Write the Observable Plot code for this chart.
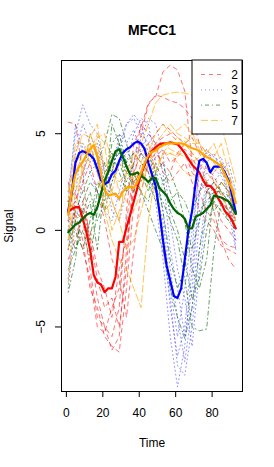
<!DOCTYPE html>
<html><head><meta charset="utf-8">
<script src="https://cdn.jsdelivr.net/npm/d3@7"></script>
<script src="https://cdn.jsdelivr.net/npm/@observablehq/plot@0.6"></script>
<style>body{margin:0;background:#fff}</style>
</head><body><div id="chart"></div>
<script>
// ---- data ----
const classes = ["2", "3", "5", "7"];
const xTicks = [0, 20, 40, 60, 80];
const yTicks = [-5, 0, 5];
const thinTime = [1,5,9,13,17,21,25,29,33,37,41,45,49,53,57,61,65,69,73,77,81,85,89,93];
const meanTime = [1,3,5,7,9,11,13,15,17,19,21,23,25,27,29,31,33,35,37,39,41,43,45,47,49,51,53,55,57,59,61,63,65,67,69,71,73,75,77,79,81,83,85,87,89,91,93];

// class 2 (individual recordings)
const c2_a = [5.6,5.5,3.0,-1.0,-3.5,-5.0,-5.5,-4.0,1.0,4.5,5.3,6.6,6.9,8.2,8.55,8.3,7.2,3.5,2.0,1.0,0.5,-0.5,-1.5,-2.0];
const c2_b = [1.5,2.0,0.5,-2.0,-4.5,-5.0,-6.2,-5.5,-1.0,2.5,5.0,6.5,7.0,6.9,6.7,6.6,6.3,5.8,4.5,3.5,2.5,1.8,1.0,0.2];
const c2_c = [0.5,0.8,-0.5,-3.0,-4.0,-5.5,-6.0,-6.3,-3.0,1.5,3.0,4.0,4.5,4.8,5.0,4.6,4.0,3.0,2.5,2.0,1.5,0.5,0.0,-0.5];
const c2_d = [-1.5,-0.5,1.0,0.0,-2.0,-3.0,-4.5,-2.0,-0.5,2.0,3.5,3.0,3.8,4.2,3.5,3.8,4.2,3.8,3.0,2.2,1.0,-0.5,-0.8,-0.9];
const c2_e = [1.0,1.5,2.5,3.5,2.0,0.5,-1.5,-2.5,-4.5,-1.0,2.0,3.5,4.0,3.5,3.0,4.0,4.5,4.0,3.5,2.5,2.0,1.5,1.0,0.8];
const c2_f = [0.0,1.0,1.5,-0.5,-2.5,-4.0,-3.5,-5.0,-2.0,3.5,5.5,5.0,4.5,3.0,2.5,3.0,3.5,2.5,1.0,0.5,0.0,-0.8,-1.0,-1.2];
const c2_g = [2.5,0.5,-1.0,-2.5,-5.0,-5.3,-4.0,-3.0,0.5,3.0,4.0,4.5,5.0,5.5,5.2,4.8,4.5,4.8,4.0,3.2,2.8,2.0,1.5,0.5];
// class 3
const c3_a = [2.0,5.0,6.5,5.5,5.0,3.0,3.5,4.0,5.5,6.0,5.5,4.0,2.5,0.0,-4.0,-6.5,-5.0,-1.0,3.5,4.0,3.8,3.5,3.0,1.5];
const c3_b = [0.5,3.0,3.5,3.0,2.0,1.5,2.5,3.5,4.0,4.5,4.0,3.0,1.5,-1.5,-5.5,-8.1,-6.0,-2.0,2.0,3.0,3.2,2.8,2.0,0.5];
const c3_c = [-1.0,1.5,3.0,4.0,3.5,1.0,0.5,2.0,3.5,5.0,5.8,5.5,3.5,1.0,-2.0,-4.5,-6.8,-4.0,0.5,2.5,3.0,3.5,1.5,-0.5];
const c3_d = [-2.5,2.0,4.5,4.0,3.0,3.5,2.0,1.5,3.0,4.0,4.2,5.0,4.5,3.0,-1.0,-3.0,-5.5,-3.0,2.0,3.5,4.0,3.0,2.5,-1.0];
const c3_e = [1.5,5.5,4.0,3.5,4.5,3.0,1.0,0.5,2.0,3.5,4.8,5.8,5.5,4.0,0.5,-2.0,-3.5,-6.0,-2.0,1.0,2.5,3.0,3.5,2.0];
const c3_f = [-3.0,0.5,2.5,5.0,4.0,2.5,3.0,4.5,5.5,5.8,5.0,4.5,3.0,-1.0,-3.5,-7.0,-7.5,-5.0,-1.0,2.0,2.5,2.0,1.0,-1.0];
const c3_g = [0.0,4.0,5.5,4.5,3.0,2.0,3.0,5.0,4.5,5.2,4.0,3.5,2.0,0.5,-3.0,-5.5,-3.0,0.0,3.0,4.2,3.5,3.8,2.5,1.0];
// class 5
const c5_a = [-0.5,1.0,2.0,3.0,3.5,4.5,6.0,5.8,4.5,3.0,2.0,1.5,3.0,3.5,2.0,1.0,0.5,-1.0,0.5,2.0,2.5,2.0,1.5,1.2];
const c5_b = [-2.0,-1.0,0.0,-1.5,1.0,3.0,3.5,4.0,3.0,2.5,2.0,1.0,0.0,-1.0,-3.0,-4.5,-5.6,-4.0,-1.0,1.0,1.5,1.0,0.5,0.0];
const c5_c = [0.5,0.0,-1.0,0.5,2.5,2.0,4.5,5.0,3.5,4.0,3.5,3.0,2.0,1.5,0.5,-0.5,-2.5,-5.0,-5.2,-5.1,-1.0,1.5,1.0,0.5];
const c5_d = [-3.2,-1.5,1.5,2.5,2.0,1.0,2.5,3.5,2.5,3.5,4.0,3.5,2.5,2.0,1.5,2.0,1.5,0.5,1.0,1.5,2.0,2.5,2.0,1.5];
const c5_e = [1.5,1.0,0.5,1.5,-1.0,2.5,4.0,3.0,2.0,2.5,3.0,2.5,1.5,2.5,3.0,2.0,0.5,-2.0,-3.0,-1.5,2.0,2.0,1.8,1.0];
const c5_f = [0.0,-1.0,1.0,2.0,0.5,1.5,5.5,4.5,3.5,2.0,3.0,2.0,3.5,2.5,1.0,0.0,-1.5,-3.5,-2.5,0.0,1.5,2.5,2.0,1.0];
const c5_g = [-1.0,0.5,1.0,-0.5,2.0,3.5,3.0,4.5,2.0,3.0,2.5,4.0,3.0,1.0,-1.5,-3.0,-2.0,1.0,2.0,2.5,1.0,1.5,0.5,0.5];
// class 7
const c7_a = [2.0,3.5,4.0,4.5,4.0,3.5,3.0,2.5,3.0,3.5,4.5,5.5,6.6,7.0,7.1,7.15,7.1,7.0,6.9,6.7,6.5,5.5,4.0,2.5];
const c7_b = [-2.7,1.0,3.5,4.5,3.0,1.0,-0.5,-1.5,-2.0,-3.0,-4.0,0.5,3.0,4.0,4.5,4.8,4.6,4.0,3.5,3.0,2.5,2.0,1.0,0.5];
const c7_c = [0.5,4.0,5.0,4.8,5.5,3.0,2.0,3.5,3.0,2.5,3.0,4.0,5.0,5.5,5.0,5.2,5.5,5.0,4.5,4.0,3.5,3.0,2.5,1.8];
const c7_d = [1.0,2.5,3.0,4.0,5.0,4.5,1.5,0.5,-1.0,-0.5,1.0,2.5,3.5,3.8,4.0,3.5,3.0,2.8,3.0,2.5,2.0,2.5,2.0,0.5];
const c7_e = [-0.5,3.0,4.0,4.2,4.5,2.0,0.0,1.0,2.0,3.0,2.5,3.5,4.0,4.5,4.2,4.0,3.8,3.5,3.8,4.2,3.8,4.5,3.0,1.5];
const c7_f = [1.5,4.5,4.5,3.5,4.8,5.0,3.5,2.0,1.5,1.0,2.0,3.5,4.5,5.0,5.5,5.0,4.8,4.5,4.5,4.0,4.5,3.5,2.0,1.0];
const c7_g = [-1.0,2.0,3.0,5.0,4.0,1.0,1.5,0.5,3.0,4.0,3.5,4.5,3.0,4.0,4.0,3.8,4.5,5.0,4.2,3.5,3.0,3.5,3.0,1.8];

// class means
const mean2 = [0.95,1.1,1.2,1.2,0.6,-0.1,-1.0,-2.3,-2.7,-2.8,-3.2,-3.0,-3.0,-2.4,-0.6,-0.6,0.15,0.8,1.5,2.2,2.9,3.4,3.8,4.1,4.3,4.45,4.5,4.5,4.55,4.5,4.45,4.25,4.0,3.7,3.4,3.2,3.0,2.6,2.3,2.3,2.1,1.7,1.4,1.0,0.8,0.5,0.1];
const mean3 = [1.0,2.0,3.5,4.0,4.1,4.0,3.9,3.7,3.2,2.6,2.4,2.5,2.9,3.1,3.6,4.0,4.2,4.3,4.5,4.6,4.5,4.2,3.5,2.9,2.3,1.0,-0.5,-1.8,-2.6,-3.4,-3.5,-3.0,-1.5,0.0,1.0,2.5,3.6,3.7,3.5,3.0,3.3,3.3,3.3,3.0,2.6,1.8,0.9];
const mean5 = [-0.1,0.1,0.3,0.4,0.6,0.8,0.9,0.8,1.2,1.9,2.6,3.0,3.6,4.1,4.2,3.8,3.3,2.9,2.9,3.0,2.8,2.7,2.5,2.7,2.7,2.2,2.0,1.8,1.4,1.1,0.9,0.8,0.6,0.1,0.1,0.7,0.8,0.9,1.1,1.3,1.8,1.75,1.7,1.6,1.5,1.2,0.85];
const mean7 = [0.8,2.1,2.9,3.3,3.55,3.9,4.2,4.4,3.8,2.9,2.1,1.8,1.85,1.9,1.65,2.0,2.2,2.25,2.2,2.5,3.0,3.5,3.9,4.05,4.15,4.3,4.4,4.5,4.5,4.5,4.5,4.5,4.45,4.35,4.25,4.2,4.1,3.95,3.8,3.7,3.6,3.45,3.3,2.9,2.5,2.1,1.4];

// ---- styles ----
const thinColor = {"2": "rgba(255,0,0,0.55)", "3": "rgba(70,70,255,0.6)", "5": "rgba(0,100,0,0.6)", "7": "rgba(255,165,0,0.65)"};
const meanColor = {"2": "#ff0000", "3": "#0000ff", "5": "#006400", "7": "#ffa500"};
const dash = {"2": "4,4", "3": "1,3", "5": "1,3,4,3", "7": "7,3"};

const thinSets = {
  "2": [c2_a, c2_b, c2_c, c2_d, c2_e, c2_f, c2_g],
  "3": [c3_a, c3_b, c3_c, c3_d, c3_e, c3_f, c3_g],
  "5": [c5_a, c5_b, c5_c, c5_d, c5_e, c5_f, c5_g],
  "7": [c7_a, c7_b, c7_c, c7_d, c7_e, c7_f, c7_g]
};
const means = {"2": mean2, "3": mean3, "5": mean5, "7": mean7};

const thinMarks = classes.map(c => {
  const rows = thinSets[c].flatMap((arr, k) => arr.map((v, i) => ({t: thinTime[i], v, id: c + "_" + k})));
  return Plot.line(rows, {x: "t", y: "v", z: "id", stroke: thinColor[c], strokeWidth: 1, strokeDasharray: dash[c]});
});
const meanMarks = classes.map(c => {
  const rows = means[c].map((v, i) => ({t: meanTime[i], v}));
  return Plot.line(rows, {x: "t", y: "v", stroke: meanColor[c], strokeWidth: 2.2});
});

const plot = Plot.plot({
  width: 274, height: 467,
  marginLeft: 61, marginRight: 32, marginTop: 60, marginBottom: 76,
  style: {fontFamily: "'Liberation Sans', Arial, Helvetica, sans-serif", fontSize: "12px", background: "white", color: "black"},
  x: {domain: [-2.68, 96.68]},
  y: {domain: [-8.34, 8.79]},
  marks: [
    ...thinMarks,
    ...meanMarks,
    Plot.frame({stroke: "black"}),
    Plot.axisX({ticks: xTicks, tickSize: 6, tickPadding: 11, label: null, fontSize: 12}),
    Plot.axisY({ticks: yTicks, tickSize: 6, tickPadding: 11, tickRotate: -90, label: null, fontSize: 12}),
    Plot.text(["MFCC1"], {frameAnchor: "top", dy: -29.5, lineAnchor: "middle", textAnchor: "middle", fontWeight: "bold", fontSize: 14}),
    Plot.text(["Time"], {frameAnchor: "bottom", dy: 52, lineAnchor: "middle", textAnchor: "middle", fontSize: 12}),
    Plot.text(["Signal"], {frameAnchor: "left", dx: -52, lineAnchor: "middle", textAnchor: "middle", rotate: -90, fontSize: 12})
  ]
});

// legend (top-right, inside the frame)
const svgSel = d3.select(plot);
const frameRight = 274 - 32, frameTop = 60;
const lg = svgSel.append("g");
lg.append("rect").attr("x", frameRight - 50).attr("y", frameTop).attr("width", 50).attr("height", 74)
  .attr("fill", "white").attr("stroke", "black");
classes.forEach((c, i) => {
  const yy = frameTop + 14.5 + i * 15.3;
  lg.append("line").attr("x1", frameRight - 41).attr("x2", frameRight - 20).attr("y1", yy).attr("y2", yy)
    .attr("stroke", thinColor[c]).attr("stroke-dasharray", dash[c]);
  lg.append("text").attr("x", frameRight - 4).attr("y", yy).attr("dy", "0.35em").attr("text-anchor", "end")
    .attr("font-size", 12).text(c);
});

document.getElementById("chart").appendChild(plot);
</script>
</body></html>
